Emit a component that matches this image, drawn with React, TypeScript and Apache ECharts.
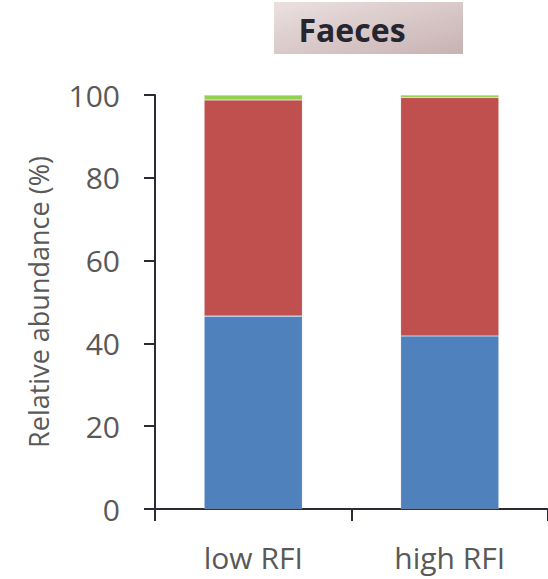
import React, { useEffect, useRef } from "react";
import * as echarts from "echarts";

const categories = ["low RFI", "high RFI"];
const blueValues = [46.6, 41.8];
const redValues = [52.2, 57.6];
const greenValues = [1.2, 0.6];
const seriesColors = ["#4F81BD", "#C0504D", "#92D050"];
const titleText = "Faeces";
const yAxisName = "Relative abundance (%)";

export default function App() {
  const ref = useRef<HTMLDivElement>(null);
  useEffect(() => {
    if (!ref.current) return;
    const chart = echarts.init(ref.current, null, { renderer: "svg" });
    const font = "'Open Sans', 'Liberation Sans', sans-serif";
    const mkSeries = (data: number[], color: string) => ({
      type: "bar",
      stack: "total",
      data,
      barWidth: "50%",
      itemStyle: { color, borderColor: "rgba(255,255,255,0.3)", borderWidth: 0.6 },
    });
    chart.setOption({
      animation: false,
      grid: { left: 155, top: 95, width: 394, bottom: 70 },
      graphic: [
        {
          type: "rect",
          shape: { x: 274, y: 2, width: 189, height: 52 },
          style: {
            fill: new echarts.graphic.LinearGradient(0, 0, 1, 1, [
              { offset: 0, color: "#ebe0e0" },
              { offset: 1, color: "#c8b2b2" },
            ]),
          },
          z: 0,
        },
        {
          type: "text",
          x: 352,
          y: 29,
          style: {
            text: titleText,
            font: `bold 32px ${font}`,
            fill: "#262630",
            align: "center",
            verticalAlign: "middle",
          },
          z: 1,
        },
      ],
      xAxis: {
        type: "category",
        data: categories,
        axisLine: { lineStyle: { color: "#2b2b35", width: 2 } },
        axisTick: { show: true, length: 12, lineStyle: { color: "#2b2b35", width: 2 } },
        axisLabel: { color: "#595959", fontSize: 30, fontFamily: font, margin: 33 },
      },
      yAxis: {
        type: "value",
        min: 0,
        max: 100,
        interval: 20,
        name: yAxisName,
        nameLocation: "middle",
        nameGap: 103,
        nameTextStyle: { color: "#595959", fontSize: 27, fontFamily: font },
        splitLine: { show: false },
        axisLine: { show: true, lineStyle: { color: "#2b2b35", width: 2 } },
        axisTick: { show: true, length: 11, lineStyle: { color: "#2b2b35", width: 2 } },
        axisLabel: { color: "#595959", fontSize: 30, fontFamily: font, margin: 35 },
      },
      series: [
        mkSeries(blueValues, seriesColors[0]),
        mkSeries(redValues, seriesColors[1]),
        mkSeries(greenValues, seriesColors[2]),
      ],
    });
    return () => chart.dispose();
  }, []);
  return (
    <div
      ref={ref}
      style={{ position: "fixed", left: 0, top: 0, width: 548, height: 579, background: "#fff" }}
    />
  );
}
